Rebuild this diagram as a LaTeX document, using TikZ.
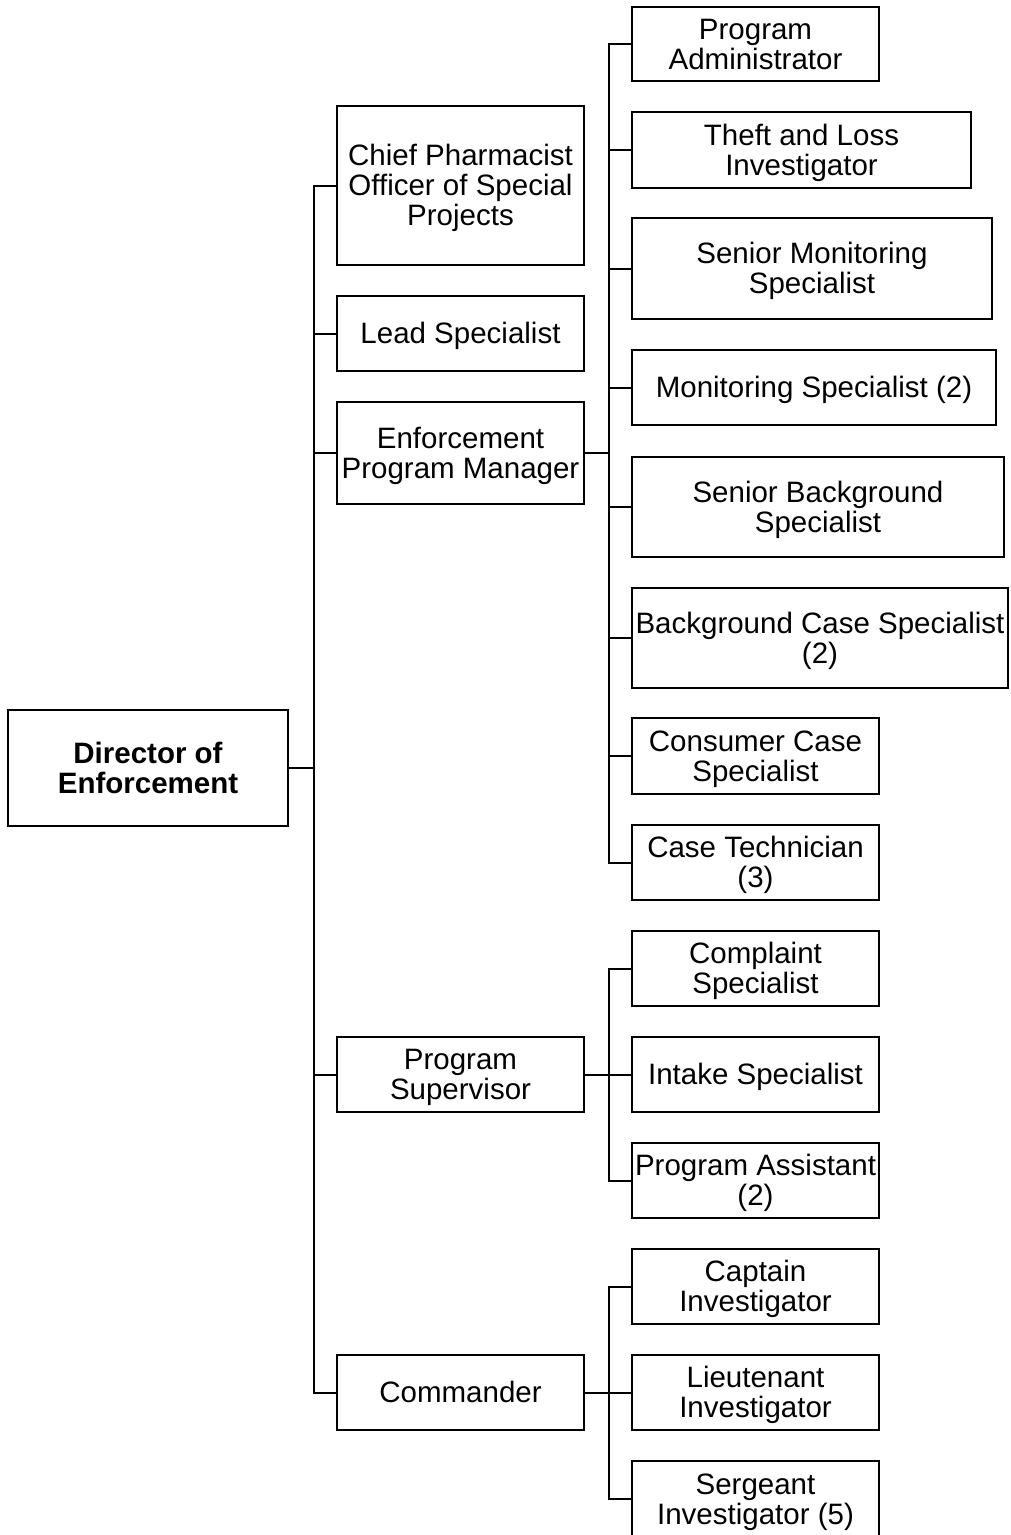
\documentclass[tikz,border=0pt]{standalone}
\usepackage{fontspec}
\setmainfont{Liberation Sans}
% struts giving every label the full ascent and descent of the font
\newcommand{\topstrut}{\rule{0pt}{0.905em}}
\newcommand{\botstrut}{\rule[-0.212em]{0pt}{0pt}}
\begin{document}
\begin{tikzpicture}[x=1pt,y=-1pt,
  box/.style={draw, line width=2pt, inner sep=0pt, align=center,
    font=\fontsize{29.5}{30}\selectfont, minimum height=75pt},
  mid/.style={box, minimum width=247pt},
  leaf/.style={box, minimum width=247pt},
  link/.style={line width=2pt}]
\useasboundingbox (0,0) rectangle (1010,1535);

% head of the unit
\node[box, minimum width=280pt, minimum height=116pt,
  font=\fontsize{29.5}{30}\selectfont\bfseries] (dir) at (148,768) {\topstrut Director of\\Enforcement\botstrut};

% direct reports
\node[mid, minimum height=159pt] (chief) at (460.5,185.5) {\topstrut Chief Pharmacist\\Officer of Special\\Projects\botstrut};
\node[mid] (lead) at (460.5,333.5) {\topstrut Lead Specialist\botstrut};
\node[mid, minimum height=102pt] (epm) at (460.5,453) {\topstrut Enforcement\\Program Manager\botstrut};
\node[mid] (ps) at (460.5,1074.5) {\topstrut Program\\Supervisor\botstrut};
\node[mid] (cmd) at (460.5,1392.5) {\topstrut Commander\botstrut};

% enforcement program staff
\node[leaf, minimum height=74pt] (pa) at (755.5,44) {\topstrut Program\\Administrator\botstrut};
\node[box, minimum width=339pt, minimum height=76pt] (tl) at (801.5,150) {\topstrut Theft and Loss\\Investigator\botstrut};
\node[box, minimum width=360pt, minimum height=101pt] (sms) at (812,268.5) {\topstrut Senior Monitoring\\Specialist\botstrut};
\node[box, minimum width=364pt] (ms) at (814,387.5) {\topstrut Monitoring Specialist (2)\botstrut};
\node[box, minimum width=372pt, minimum height=100pt] (sbs) at (818,507) {\topstrut Senior Background\\Specialist\botstrut};
\node[box, minimum width=376pt, minimum height=100pt] (bcs) at (820,638) {\topstrut Background Case Specialist\\(2)\botstrut};
\node[leaf, minimum height=76pt] (ccs) at (755.5,756) {\topstrut Consumer Case\\Specialist\botstrut};
\node[leaf] (ct) at (755.5,862.5) {\topstrut Case Technician\\(3)\botstrut};

% program supervisor staff
\node[leaf] (cs) at (755.5,968.5) {\topstrut Complaint\\Specialist\botstrut};
\node[leaf] (is) at (755.5,1074.5) {\topstrut Intake Specialist\botstrut};
\node[leaf] (pas) at (755.5,1180.5) {\topstrut Program Assistant\\(2)\botstrut};

% investigators
\node[leaf] (cap) at (755.5,1286.5) {\topstrut Captain\\Investigator\botstrut};
\node[leaf] (lt) at (755.5,1392.5) {\topstrut Lieutenant\\Investigator\botstrut};
\node[leaf, minimum height=76pt] (sg) at (755.5,1499) {\topstrut Sergeant\\Investigator (5)\botstrut};

% connectors
\draw[link] (dir.east) -- ++(25,0) coordinate (t0);
\foreach \n in {chief,lead,epm,ps,cmd} \draw[link] (t0) |- (\n.west);

\draw[link] (epm.east) -- ++(24,0) coordinate (t1);
\foreach \n in {pa,tl,sms,ms,sbs,bcs,ccs,ct} \draw[link] (t1) |- (\n.west);

\draw[link] (ps.east) -- ++(24,0) coordinate (t2);
\foreach \n in {cs,is,pas} \draw[link] (t2) |- (\n.west);

\draw[link] (cmd.east) -- ++(24,0) coordinate (t3);
\foreach \n in {cap,lt,sg} \draw[link] (t3) |- (\n.west);
\end{tikzpicture}
\end{document}
